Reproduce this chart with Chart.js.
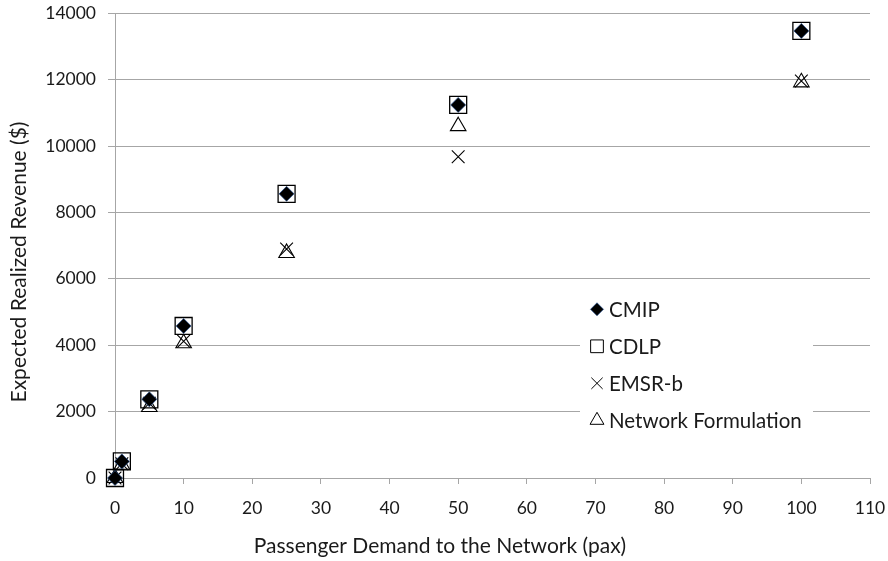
<!DOCTYPE html>
<html>
<head>
<meta charset="utf-8">
<script src="https://cdn.jsdelivr.net/npm/chart.js@4.4.1/dist/chart.umd.min.js"></script>
<style>
  html, body { margin: 0; padding: 0; background: #fff; }
  #wrap { width: 888px; height: 561px; }
</style>
</head>
<body>
<div id="wrap"><canvas id="revenueChart" width="888" height="561"></canvas></div>
<script>
// passenger demand (x) and expected realized revenue per method (y)
const demand = [0, 1, 5, 10, 25, 50, 100];
const cmip = [0, 500, 2370, 4580, 8560, 11240, 13470];
const cdlp = [0, 500, 2370, 4580, 8560, 11240, 13470];
const emsrb = [0, 430, 2250, 4120, 6900, 9680, 11960];
const network = [0, 400, 2140, 4060, 6780, 10600, 11920];

const seriesNames = ["CMIP", "CDLP", "EMSR-b", "Network Formulation"];
const xTicks = [0, 10, 20, 30, 40, 50, 60, 70, 80, 90, 100, 110];
const yTicks = [0, 2000, 4000, 6000, 8000, 10000, 12000, 14000];
const xTitle = "Passenger Demand to the Network (pax)";
const yTitle = "Expected Realized Revenue ($)";

const FONT = "Lato, 'Open Sans', sans-serif";
const TEXT = "#1a1a1a";
const GRID = "#a6a6a6";

function toPoints(ys) {
  return demand.map((d, i) => ({ x: d, y: ys[i] }));
}

const styles = [
  { pointStyle: "rectRot", radius: 7.5, bg: "#000", border: "rgba(40,80,140,0.7)", bw: 1 },
  { pointStyle: "rect", radius: 12, bg: "rgba(0,0,0,0)", border: "#000", bw: 1.3 },
  { pointStyle: "crossRot", radius: 9, bg: "rgba(0,0,0,0)", border: "#000", bw: 1.1 },
  { pointStyle: "triangle", radius: 9, bg: "rgba(0,0,0,0)", border: "#000", bw: 1.1 },
];

const allSeries = [cmip, cdlp, emsrb, network];

const datasets = allSeries.map((ys, i) => ({
  label: seriesNames[i],
  data: toPoints(ys),
  pointStyle: styles[i].pointStyle,
  pointRadius: styles[i].radius,
  pointHoverRadius: styles[i].radius,
  backgroundColor: styles[i].bg,
  borderColor: styles[i].border,
  borderWidth: styles[i].bw,
  showLine: false,
  clip: false,
}));

// legend floating inside the plot + axis titles, drawn by hand
const overlay = {
  id: "overlay",
  afterDraw(chart) {
    const ctx = chart.ctx;
    const area = chart.chartArea;
    ctx.save();

    // axis titles (Excel centres them a bit off the plot centre)
    ctx.fillStyle = TEXT;
    ctx.font = "21px " + FONT;
    ctx.textAlign = "center";
    ctx.textBaseline = "middle";
    ctx.fillText(xTitle, 440, 546);
    ctx.translate(19, 262);
    ctx.rotate(-Math.PI / 2);
    ctx.fillText(yTitle, 0, 0);
    ctx.setTransform(1, 0, 0, 1, 0, 0);

    const boxLeft = area.left + 465;
    const boxTop = area.top + 277;
    ctx.fillStyle = "#fff";
    ctx.fillRect(boxLeft, boxTop, 233, 148);
    ctx.font = "20.5px " + FONT;
    ctx.textAlign = "left";
    const legendSizes = [6.5, 9, 8, 8];
    seriesNames.forEach((name, i) => {
      const cy = boxTop + 19 + i * 37;
      const cx = boxLeft + 17;
      ctx.fillStyle = styles[i].bg;
      ctx.strokeStyle = styles[i].border;
      ctx.lineWidth = 1;
      Chart.helpers.drawPoint(ctx, {
        pointStyle: styles[i].pointStyle,
        radius: legendSizes[i],
        rotation: 0,
        borderWidth: 1,
      }, cx, cy);
      ctx.fillStyle = TEXT;
      ctx.fillText(name, boxLeft + 29, cy + 1);
    });
    ctx.restore();
  },
};

new Chart(document.getElementById("revenueChart"), {
  type: "scatter",
  data: { datasets },
  options: {
    responsive: false,
    animation: false,
    layout: { padding: { top: 11, right: 18, bottom: 0, left: 0 } },
    plugins: {
      legend: { display: false },
      tooltip: { enabled: false },
    },
    scales: {
      x: {
        type: "linear",
        min: 0,
        max: 110,
        afterBuildTicks(scale) {
          scale.ticks = xTicks.map(v => ({ value: v }));
        },
        afterFit(scale) {
          scale.height = 83;
          scale.paddingLeft = 0;
          scale.paddingRight = 0;
        },
        grid: { drawOnChartArea: false, drawTicks: true, tickLength: 6, color: GRID },
        border: { color: GRID, width: 1 },
        ticks: {
          color: TEXT, font: { family: FONT, size: 17.5 }, padding: 14, maxRotation: 0,
          callback: v => String(v),
        },
      },
      y: {
        type: "linear",
        min: 0,
        max: 14000,
        afterBuildTicks(scale) {
          scale.ticks = yTicks.map(v => ({ value: v }));
        },
        afterFit(scale) {
          scale.width = 115;
          scale.paddingTop = 0;
          scale.paddingBottom = 0;
        },
        grid: { color: GRID, tickLength: 7, lineWidth: 1 },
        border: { color: GRID, width: 1 },
        ticks: {
          color: TEXT, font: { family: FONT, size: 17.5 }, padding: 12,
          callback: v => String(v),
        },
      },
    },
  },
  plugins: [overlay],
});
</script>
</body>
</html>
